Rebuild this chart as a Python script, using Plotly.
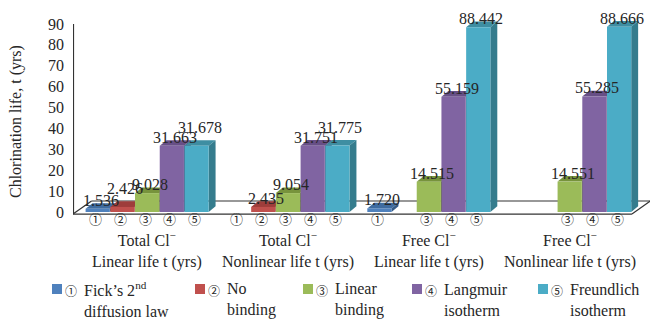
import plotly.graph_objects as go

# ---- data -------------------------------------------------------------
group_labels = [
    "Total Cl<sup>−</sup><br>Linear life t (yrs)",
    "Total Cl<sup>−</sup><br>Nonlinear life t (yrs)",
    "Free Cl<sup>−</sup><br>Linear life t (yrs)",
    "Free Cl<sup>−</sup><br>Nonlinear life t (yrs)",
]
marks = ["①", "②", "③", "④", "⑤"]
# circled model numbers printed under each group
group_marks = [
    ["①", "②", "③", "④", "⑤"],
    ["①", "②", "③", "④", "⑤"],
    ["①", "", "③", "④", "⑤"],
    ["", "", "③", "④", "⑤"],
]
legend_first = ["Fick’s 2<sup>nd</sup>", "No", "Linear", "Langmuir", "Freundlich"]
legend_second = ["diffusion law", "binding", "binding", "isotherm", "isotherm"]

fick = [1.536, None, 1.720, None]
no_binding = [2.426, 2.435, None, None]
linear_binding = [9.028, 9.054, 14.515, 14.551]
langmuir = [31.663, 31.751, 55.159, 55.285]
freundlich = [31.678, 31.775, 88.442, 88.666]
series = [fick, no_binding, linear_binding, langmuir, freundlich]

y_ticks = [0, 10, 20, 30, 40, 50, 60, 70, 80, 90]

# ---- styling ----------------------------------------------------------
front = ["#4F81BD", "#C0504D", "#9BBB59", "#8064A2", "#4BACC6"]
top = ["#3F6CA0", "#9E3D3B", "#77933C", "#674F86", "#3E8EA2"]
side = ["#345A86", "#853230", "#627A30", "#56426F", "#357C8D"]

FONT = "Liberation Serif, Times New Roman, Noto Sans CJK SC, serif"
CIRC_FONT = "Noto Sans CJK SC, DejaVu Sans, sans-serif"
TXT = "#262626"

W, H = 650, 320
ML, MR, MT, MB = 73, 0, 12, 105
PW, PH = W - ML - MR, H - MT - MB

GROUP_PITCH = 5.7
BAR_W = 0.98
X_RANGE = [-1.0, 22.35]
Y_RANGE = [-1.435, 95.7]
DX, DY = 0.28, 2.7          # depth offset of the 3-D faces (axis units)
FLOOR_DX, FLOOR_DY = 0.75, 5.26


def slot_x(g, s):
    return g * GROUP_PITCH + s


def px_to_paper(px, py):
    return (px - ML) / PW, (H - MB - py) / PH


fig = go.Figure()
shapes = []
annotations = []

# floor of the 3-D box
x_front_end = slot_x(3, 4) + 0.52
floor = [
    (X_RANGE[0], -1.0, x_front_end, -1.0),
    (X_RANGE[0] + FLOOR_DX, FLOOR_DY, x_front_end + FLOOR_DX, FLOOR_DY),
    (X_RANGE[0], -1.0, X_RANGE[0] + FLOOR_DX, FLOOR_DY),
    (x_front_end, -1.0, x_front_end + FLOOR_DX, FLOOR_DY),
]
for x0, y0, x1, y1 in floor:
    shapes.append(dict(type="line", xref="x", yref="y", x0=x0, y0=y0, x1=x1, y1=y1,
                       line=dict(color="#333333", width=1.2), layer="below"))
# vertical value axis line
shapes.append(dict(type="line", xref="x", yref="y", x0=X_RANGE[0] + 0.02, x1=X_RANGE[0] + 0.02,
                   y0=-1.0, y1=90, line=dict(color="#333333", width=1.2), layer="below"))

for s, vals in enumerate(series):
    xs = [slot_x(g, s) for g in range(len(vals))]
    fig.add_trace(go.Bar(
        x=xs, y=vals, width=BAR_W, name=marks[s],
        marker=dict(color=front[s], line=dict(width=0)),
        showlegend=False, hoverinfo="y",
    ))
    for g, v in enumerate(vals):
        if v is None:
            continue
        xc = xs[g]
        x0, x1 = xc - BAR_W / 2, xc + BAR_W / 2
        # top face
        shapes.append(dict(
            type="path", xref="x", yref="y", layer="below", line=dict(width=0),
            fillcolor=top[s],
            path=f"M{x0},{v} L{x0 + DX},{v + DY} L{x1 + DX},{v + DY} L{x1},{v} Z"))
        # right-hand face
        shapes.append(dict(
            type="path", xref="x", yref="y", layer="below", line=dict(width=0),
            fillcolor=side[s],
            path=f"M{x1},0 L{x1 + DX},{DY} L{x1 + DX},{v + DY} L{x1},{v} Z"))
        # value label; lifted when it would sit on the neighbouring label
        prev = series[s - 1][g] if s > 0 else None
        lift = 10 if (prev is not None and abs(prev - v) < 1.0) else 0
        annotations.append(dict(
            x=xc, y=v, xref="x", yref="y", text=f"{v:.3f}", showarrow=False,
            yanchor="bottom", xanchor="center", xshift=3, yshift=-2 + lift,
            font=dict(family=FONT, size=16, color=TXT)))

# circled numbers under the bars
for g, row in enumerate(group_marks):
    for s, m in enumerate(row):
        if not m:
            continue
        annotations.append(dict(
            x=slot_x(g, s), y=0, xref="x", yref="paper", text=m, showarrow=False,
            yanchor="middle", xanchor="center", xshift=-2, yshift=-3,
            font=dict(family=CIRC_FONT, size=13, color=TXT)))

# group labels
for g, lab in enumerate(group_labels):
    annotations.append(dict(
        x=slot_x(g, 2), y=0, xref="x", yref="paper", text=lab, showarrow=False,
        yanchor="middle", xanchor="center", yshift=-(250 - (H - MB)), align="center",
        font=dict(family=FONT, size=16, color=TXT)))

# axis title
tx, ty = px_to_paper(16, 122)
annotations.append(dict(
    x=tx, y=ty, xref="paper", yref="paper", text="Chlorination life, t (yrs)",
    showarrow=False, textangle=-90, xanchor="center", yanchor="middle",
    font=dict(family=FONT, size=16, color=TXT)))

# legend: swatch, circled number, two-line description
legend_txt = [82, 225, 333, 442, 568]
for i in range(5):
    left = legend_txt[i] - 30
    sx0, sy0 = px_to_paper(left, 294)
    sx1, sy1 = px_to_paper(left + 10, 284)
    shapes.append(dict(type="rect", xref="paper", yref="paper", x0=sx0, y0=sy0,
                       x1=sx1, y1=sy1, fillcolor=front[i], line=dict(width=0)))
    mx, my = px_to_paper(legend_txt[i] - 11.5, 290)
    annotations.append(dict(
        x=mx, y=my, xref="paper", yref="paper", text=marks[i], showarrow=False,
        xanchor="center", yanchor="middle",
        font=dict(family=CIRC_FONT, size=12, color=TXT)))
    lx, ly = px_to_paper(legend_txt[i], 299.5)
    annotations.append(dict(
        x=lx, y=ly, xref="paper", yref="paper",
        text=f"{legend_first[i]}<br>{legend_second[i]}", showarrow=False,
        xanchor="left", yanchor="middle", align="left",
        font=dict(family=FONT, size=16, color=TXT)))

fig.update_layout(
    width=W, height=H,
    margin=dict(l=ML, r=MR, t=MT, b=MB, pad=0),
    paper_bgcolor="white", plot_bgcolor="white",
    barmode="overlay",
    font=dict(family=FONT, size=16, color=TXT),
    xaxis=dict(range=X_RANGE, showgrid=False, zeroline=False, showline=False,
               showticklabels=False, ticks=""),
    yaxis=dict(range=Y_RANGE, showgrid=False, zeroline=False, showline=False,
               tickvals=y_ticks, ticktext=[str(t) for t in y_ticks], ticks="",
               ticklabelstandoff=8, tickfont=dict(family=FONT, size=16, color=TXT)),
    shapes=shapes,
    annotations=annotations,
    showlegend=False,
)

fig.write_html("out.html")
